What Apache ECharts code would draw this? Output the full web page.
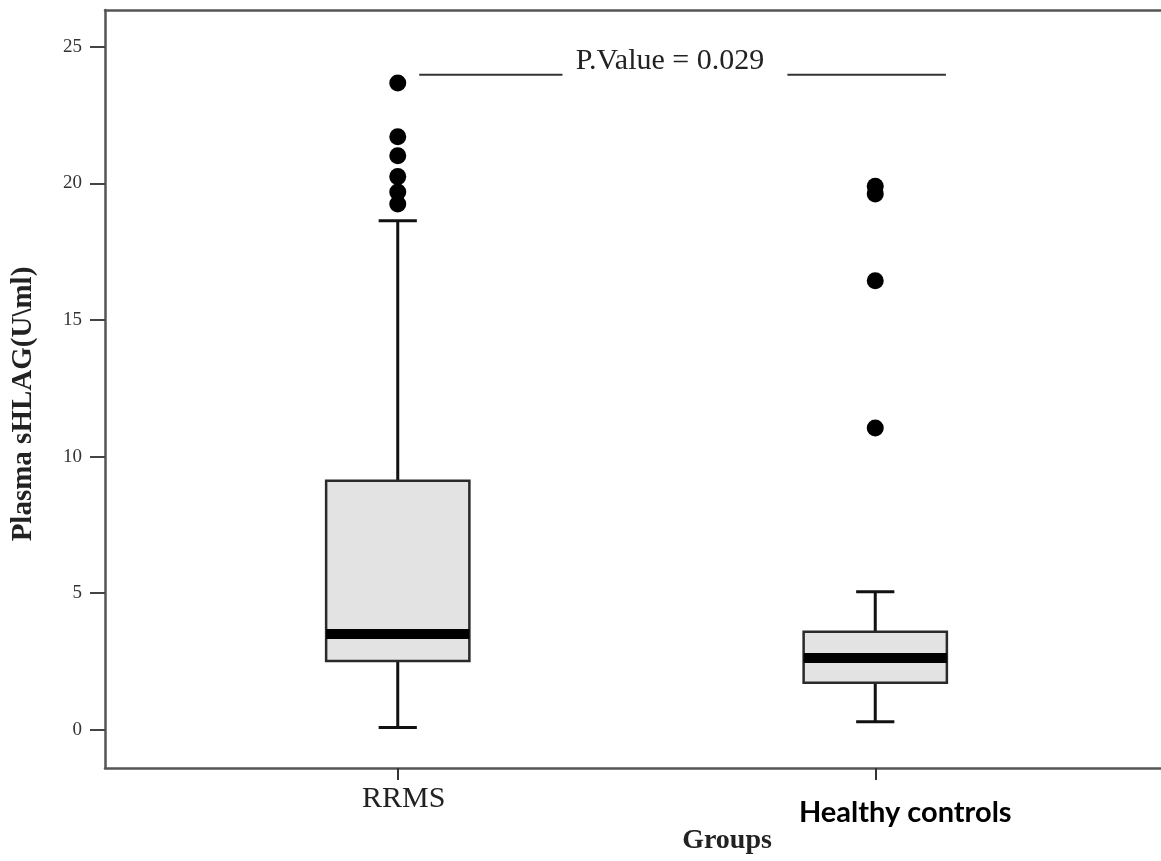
<!DOCTYPE html>
<html>
<head>
<meta charset="utf-8">
<script src="https://cdn.jsdelivr.net/npm/echarts@6/dist/echarts.min.js"></script>
<style>
html,body{margin:0;padding:0;background:#fff;}
#chart{width:1161px;height:861px;}
</style>
</head>
<body>
<div id="chart"></div>
<script>
// ---- data ----
const categories = ['RRMS', 'Healthy controls'];
// [low whisker, Q1, median, Q3, high whisker]
const rrmsBox = [0.08, 2.52, 3.51, 9.12, 18.63];
const hcBox = [0.29, 1.72, 2.63, 3.59, 5.05];
const rrmsOutliers = [23.68, 21.71, 21.01, 20.25, 19.69, 19.25];
const hcOutliers = [19.90, 19.61, 16.44, 11.05];
const yTicks = [0, 5, 10, 15, 20, 25];
const pValueText = 'P.Value = 0.029';
const pValueLevel = 24.05;

const yMin = -1.4, yMax = 26.35;

const boxData = [
  [0].concat(rrmsBox),
  [1].concat(hcBox)
];
const outlierData = rrmsOutliers.map(v => [0, v]).concat(hcOutliers.map(v => [1, v]));

const serif = '"Liberation Serif", "Times New Roman", serif';

const chart = echarts.init(document.getElementById('chart'), null, {renderer: 'canvas'});

function renderBox(params, api) {
  const idx = api.value(0);
  const low = api.coord([idx, api.value(1)]);
  const q1 = api.coord([idx, api.value(2)]);
  const med = api.coord([idx, api.value(3)]);
  const q3 = api.coord([idx, api.value(4)]);
  const high = api.coord([idx, api.value(5)]);
  const band = api.size([1, 0])[0];
  const hw = band * 0.15;
  const cw = band * 0.04;
  const cx = med[0];
  const lineStyle = {stroke: '#111', lineWidth: 3};
  return {
    type: 'group',
    children: [
      {type: 'line', shape: {x1: cx, y1: q3[1], x2: cx, y2: high[1]}, style: lineStyle},
      {type: 'line', shape: {x1: cx, y1: q1[1], x2: cx, y2: low[1]}, style: lineStyle},
      {type: 'line', shape: {x1: cx - cw, y1: high[1], x2: cx + cw, y2: high[1]}, style: lineStyle},
      {type: 'line', shape: {x1: cx - cw, y1: low[1], x2: cx + cw, y2: low[1]}, style: lineStyle},
      {type: 'rect', shape: {x: cx - hw, y: q3[1], width: hw * 2, height: q1[1] - q3[1]},
        style: {fill: '#e3e3e3', stroke: '#2a2a2a', lineWidth: 2.5}},
      {type: 'rect', shape: {x: cx - hw, y: med[1] - 5, width: hw * 2, height: 10},
        style: {fill: '#000'}}
    ]
  };
}

function renderPValue(params, api) {
  const a = api.coord([0, pValueLevel]);
  const b = api.coord([1, pValueLevel]);
  const band = api.size([1, 0])[0];
  const midX = (a[0] + b[0]) / 2 + band * 0.07;
  const st = {stroke: '#333', lineWidth: 2};
  return {
    type: 'group',
    children: [
      {type: 'line', shape: {x1: a[0] + band * 0.045, y1: a[1] + 2, x2: a[0] + band * 0.345, y2: a[1] + 2}, style: st},
      {type: 'line', shape: {x1: b[0] - band * 0.184, y1: b[1] + 2, x2: b[0] + band * 0.148, y2: b[1] + 2}, style: st},
      {type: 'text', style: {x: midX, y: a[1] - 12, text: pValueText, textAlign: 'center', textVerticalAlign: 'middle',
        font: '30px ' + serif, fill: '#222'}}
    ]
  };
}

const frameLine = {show: true, onZero: false, lineStyle: {color: '#555', width: 2.5}};

const option = {
  backgroundColor: '#fff',
  animation: false,
  title: {
    text: 'Groups',
    left: 722, top: 822,
    textAlign: 'center',
    textStyle: {fontFamily: serif, fontWeight: 'bold', fontSize: 28, color: '#222'}
  },
  grid: [
    {left: 105, top: 10, right: 0, bottom: 93, containLabel: false, outerBoundsMode: 'none'},
    {left: 159, top: 10, right: 47, bottom: 93, containLabel: false, outerBoundsMode: 'none'}
  ],
  xAxis: [
    {gridIndex: 0, type: 'value', min: 0, max: 1, position: 'bottom',
      axisLine: frameLine, axisTick: {show: false}, axisLabel: {show: false}, splitLine: {show: false}},
    {
      gridIndex: 1, type: 'category', data: categories, boundaryGap: true, position: 'bottom',
      axisLine: {show: false, onZero: false},
      axisTick: {show: true, alignWithLabel: true, length: 12, lineStyle: {color: '#333', width: 2}},
      axisLabel: {
        margin: 16,
        formatter: function (v) { return v === 'RRMS' ? '{a|' + v + '}' : '{b|' + v + '}'; },
        rich: {
          a: {fontFamily: serif, fontSize: 30, color: '#222', padding: [0, 0, 0, 12]},
          b: {fontFamily: 'Lato, "Liberation Sans", sans-serif', fontWeight: 'bold', fontSize: 29, color: '#000', padding: [14, 0, 0, 60]}
        }
      },
      splitLine: {show: false}
    },
    {gridIndex: 0, type: 'value', min: 0, max: 1, position: 'top',
      axisLine: frameLine, axisTick: {show: false}, axisLabel: {show: false}, splitLine: {show: false}}
  ],
  yAxis: [
    {
      gridIndex: 0, type: 'value', min: yMin, max: yMax,
      name: 'Plasma sHLAG(U\\ml)', nameLocation: 'middle', nameGap: 67,
      nameTextStyle: {fontFamily: serif, fontWeight: 'bold', fontSize: 29, color: '#222', padding: [0, 0, 0, -30]},
      axisLine: {show: true, lineStyle: {color: '#555', width: 2.5}},
      axisTick: {show: true, customValues: yTicks, length: 15, lineStyle: {color: '#444', width: 2}},
      axisLabel: {customValues: yTicks, margin: 23, fontFamily: serif, fontSize: 19, color: '#333'},
      splitLine: {show: false}
    },
    {gridIndex: 1, type: 'value', min: yMin, max: yMax, show: false}
  ],
  series: [
    {
      type: 'custom', xAxisIndex: 1, yAxisIndex: 1,
      renderItem: renderBox,
      encode: {x: 0, y: [1, 2, 3, 4, 5]},
      data: boxData, z: 2
    },
    {
      type: 'scatter', xAxisIndex: 1, yAxisIndex: 1,
      data: outlierData, symbol: 'circle', symbolSize: 17,
      itemStyle: {color: '#000', opacity: 1}, z: 3
    },
    {
      type: 'custom', xAxisIndex: 1, yAxisIndex: 1,
      renderItem: renderPValue,
      data: [[0, pValueLevel]], z: 4, silent: true
    }
  ]
};
chart.setOption(option);
</script>
</body>
</html>
